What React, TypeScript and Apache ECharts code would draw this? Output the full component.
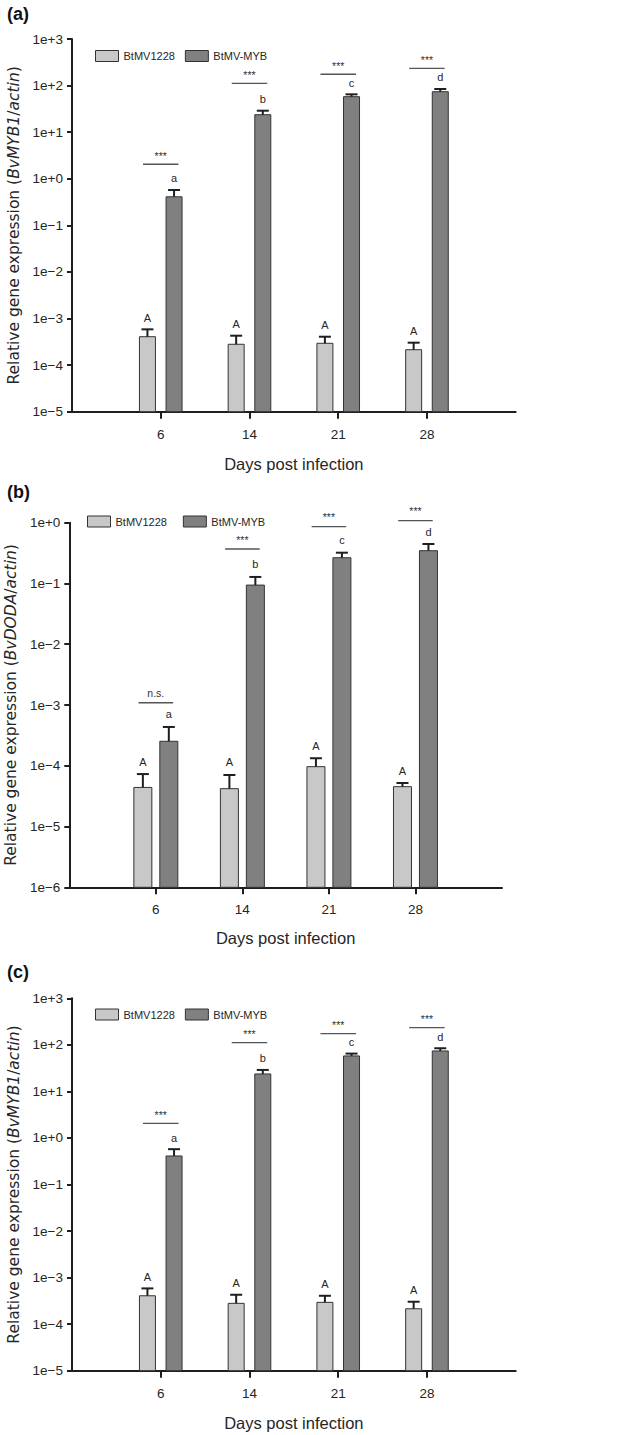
import React, { useEffect, useRef } from 'react';
import * as echarts from 'echarts';

// ---------- data ----------
const days = ['6', '14', '21', '28'];
const seriesNames = ['BtMV1228', 'BtMV-MYB'];

// Panel (a) and (c): BvMYB1 / actin
const mybControlMean = [4.07e-4, 2.8e-4, 2.94e-4, 2.14e-4];
const mybControlSE = [1.79e-4, 1.48e-4, 1.13e-4, 0.89e-4];
const mybMybMean = [0.41, 23.7, 57.8, 73.9];
const mybMybSE = [0.164, 5.2, 7.1, 10.6];
const mybSigLabels = ['***', '***', '***', '***'];
const mybSigLevels = [2.05, 112, 175, 235];

// Panel (b): BvDODA / actin
const dodaControlMean = [4.4e-5, 4.2e-5, 9.66e-5, 4.53e-5];
const dodaControlSE = [2.9e-5, 2.85e-5, 3.64e-5, 0.67e-5];
const dodaMybMean = [2.53e-4, 0.094, 0.265, 0.346];
const dodaMybSE = [1.82e-4, 0.034, 0.056, 0.1];
const dodaSigLabels = ['n.s.', '***', '***', '***'];
const dodaSigLevels = [1.09e-3, 0.369, 0.86, 1.08];

const controlLetters = ['A', 'A', 'A', 'A'];
const mybLetters = ['a', 'b', 'c', 'd'];

// ---------- styles ----------
const SANS = "'Liberation Sans', Arial, Helvetica, sans-serif";
const WIDE = "'DejaVu Sans', 'Liberation Sans', Arial, sans-serif";
const fills = ['#c8c8c8', '#808080'];
const axisColor = '#1e1e1e';
const textColor = '#262626';

const panels = [
  {
    tag: '(a)', tagY: 15, gene: 'BvMYB1',
    grid: { left: 72, top: 39, width: 443.7, height: 372.7 },
    yMin: 1e-5, yMax: 1e3, split: 8,
    ctrl: mybControlMean, ctrlSE: mybControlSE, myb: mybMybMean, mybSE: mybMybSE,
    sigLabels: mybSigLabels, sigLevels: mybSigLevels,
    barPx: 16, letterGap: 6, sigGap: 3,
    xLabelMargin: 16, xNameGap: 44, yNameGap: 44,
    legend: { left: 95, top: 50, itemGap: 10 },
  },
  {
    tag: '(b)', tagY: 493, gene: 'BvDODA',
    grid: { left: 69.3, top: 522.7, width: 432.7, height: 364.6 },
    yMin: 1e-6, yMax: 1e0, split: 6,
    ctrl: dodaControlMean, ctrlSE: dodaControlSE, myb: dodaMybMean, mybSE: dodaMybSE,
    sigLabels: dodaSigLabels, sigLevels: dodaSigLevels,
    barPx: 18, letterGap: 7, sigGap: 4,
    xLabelMargin: 15, xNameGap: 42, yNameGap: 42,
    legend: { left: 87, top: 515.5, itemGap: 16 },
  },
  {
    tag: '(c)', tagY: 973, gene: 'BvMYB1',
    grid: { left: 72, top: 998.3, width: 443.7, height: 372.4 },
    yMin: 1e-5, yMax: 1e3, split: 8,
    ctrl: mybControlMean, ctrlSE: mybControlSE, myb: mybMybMean, mybSE: mybMybSE,
    sigLabels: mybSigLabels, sigLevels: mybSigLevels,
    barPx: 16, letterGap: 6, sigGap: 3,
    xLabelMargin: 16, xNameGap: 44, yNameGap: 44,
    legend: { left: 95, top: 1008.5, itemGap: 10 },
  },
];

const logLabel = (v: number) => {
  const e = Math.round(Math.log10(v));
  return e >= 0 ? `1e+${e}` : `1e\u2212${-e}`;
};

function barRender(letters: string[], offset: number, barPx: number, letterGap: number, yMin: number, fill: string) {
  return (params: any, api: any) => {
    const i = params.dataIndex;
    const x = api.value(0);
    const v = api.value(1);
    const se = api.value(2);
    const p0 = api.coord([x, yMin]);
    const p1 = api.coord([x + 1, yMin]);
    const unit = p1[0] - p0[0];
    const cx = p0[0] + offset * unit;
    const top = api.coord([x, v])[1];
    const errTop = api.coord([x, v + se])[1];
    const base = p0[1];
    const cap = 12;
    return {
      type: 'group',
      children: [
        {
          type: 'rect',
          shape: { x: cx - barPx / 2, y: top, width: barPx, height: base - top },
          style: { fill, stroke: '#333', lineWidth: 1 },
        },
        {
          type: 'line',
          shape: { x1: cx, y1: top, x2: cx, y2: errTop },
          style: { stroke: '#1e1e1e', lineWidth: 2 },
        },
        {
          type: 'line',
          shape: { x1: cx - cap / 2, y1: errTop, x2: cx + cap / 2, y2: errTop },
          style: { stroke: '#1e1e1e', lineWidth: 2 },
        },
        {
          type: 'text',
          style: {
            text: letters[i], x: cx, y: errTop - letterGap,
            align: 'center', verticalAlign: 'bottom',
            fontSize: 11, fontFamily: SANS, fill: textColor,
          },
        },
      ],
    };
  };
}

function sigRender(labels: string[], gap: number) {
  return (params: any, api: any) => {
    const i = params.dataIndex;
    const x = api.value(0);
    const lv = api.value(1);
    const pL = api.coord([x - 0.2, lv]);
    const pR = api.coord([x + 0.2, lv]);
    return {
      type: 'group',
      children: [
        {
          type: 'line',
          shape: { x1: pL[0], y1: pL[1], x2: pR[0], y2: pR[1] },
          style: { stroke: '#555', lineWidth: 1.3 },
        },
        {
          type: 'text',
          style: {
            text: labels[i], x: (pL[0] + pR[0]) / 2, y: pL[1] - gap,
            align: 'center', verticalAlign: 'bottom',
            fontSize: 10.5, fontFamily: SANS, fill: '#333',
          },
        },
      ],
    };
  };
}

function buildOption() {
  const grids: any[] = [];
  const xAxes: any[] = [];
  const yAxes: any[] = [];
  const legends: any[] = [];
  const series: any[] = [];
  const graphics: any[] = [];

  panels.forEach((p, k) => {
    grids.push({ ...p.grid, containLabel: false, outerBoundsMode: 'none' });
    xAxes.push({
      type: 'value', gridIndex: k, min: 0, max: 5, interval: 1,
      name: 'Days post infection', nameLocation: 'middle', nameGap: p.xNameGap,
      nameTextStyle: { fontFamily: SANS, fontSize: 16.5, color: textColor },
      axisLine: { show: true, onZero: false, lineStyle: { color: axisColor, width: 2 } },
      axisTick: { show: true, customValues: [1, 2, 3, 4], length: 7, lineStyle: { color: axisColor, width: 2 } },
      axisLabel: {
        customValues: [1, 2, 3, 4], margin: p.xLabelMargin,
        formatter: (v: number) => days[Math.round(v) - 1] ?? '',
        fontFamily: SANS, fontSize: 13.5, color: textColor,
      },
      splitLine: { show: false },
    });
    yAxes.push({
      type: 'log', logBase: 10, gridIndex: k, min: p.yMin, max: p.yMax,
      splitNumber: p.split, interval: 1,
      name: `Relative gene expression ({i|${p.gene}}/{i|actin})`,
      nameLocation: 'middle', nameGap: p.yNameGap,
      nameTextStyle: {
        fontFamily: WIDE, fontSize: 15.5, color: textColor,
        rich: { i: { fontFamily: WIDE, fontSize: 15.5, fontStyle: 'italic', color: textColor } },
      },
      axisLine: { show: true, lineStyle: { color: axisColor, width: 2 } },
      axisTick: { show: true, length: 5, lineStyle: { color: axisColor, width: 2 } },
      axisLabel: { margin: 9, formatter: logLabel, fontFamily: SANS, fontSize: 13.5, color: textColor },
      splitLine: { show: false },
    });
    legends.push({
      left: p.legend.left, top: p.legend.top, padding: 0, orient: 'horizontal',
      itemWidth: 23, itemHeight: 11, itemGap: p.legend.itemGap, selectedMode: false,
      textStyle: { fontFamily: SANS, fontSize: 11, color: textColor },
      data: seriesNames.map((n, j) => ({
        name: n, icon: 'rect',
        itemStyle: { color: fills[j], borderColor: '#333', borderWidth: 1 },
      })),
    });
    series.push({
      type: 'custom', name: seriesNames[0], xAxisIndex: k, yAxisIndex: k,
      itemStyle: { color: fills[0] },
      data: days.map((_, i) => [i + 1, p.ctrl[i], p.ctrlSE[i]]),
      renderItem: barRender(controlLetters, -0.15, p.barPx, p.letterGap, p.yMin, fills[0]),
    });
    series.push({
      type: 'custom', name: seriesNames[1], xAxisIndex: k, yAxisIndex: k,
      itemStyle: { color: fills[1] },
      data: days.map((_, i) => [i + 1, p.myb[i], p.mybSE[i]]),
      renderItem: barRender(mybLetters, 0.15, p.barPx, p.letterGap, p.yMin, fills[1]),
    });
    series.push({
      type: 'custom', name: `sig-${k}`, xAxisIndex: k, yAxisIndex: k,
      data: days.map((_, i) => [i + 1, p.sigLevels[i]]),
      renderItem: sigRender(p.sigLabels, p.sigGap),
    });
    graphics.push({
      type: 'text', left: 7, top: p.tagY - 10,
      style: { text: p.tag, fontFamily: SANS, fontWeight: 'bold', fontSize: 18, fill: '#111' },
    });
  });

  return {
    animation: false,
    backgroundColor: '#ffffff',
    textStyle: { fontFamily: SANS },
    grid: grids,
    xAxis: xAxes,
    yAxis: yAxes,
    legend: legends,
    series,
    graphic: graphics,
    tooltip: { show: false },
  };
}

export default function App() {
  const ref = useRef<HTMLDivElement>(null);
  useEffect(() => {
    if (!ref.current) return;
    const chart = echarts.init(ref.current, null, { renderer: 'svg' });
    chart.setOption(buildOption() as any);
    return () => chart.dispose();
  }, []);
  return (
    <div
      ref={ref}
      style={{ position: 'absolute', left: 0, top: 0, width: 630, height: 1435, background: '#fff' }}
    />
  );
}
